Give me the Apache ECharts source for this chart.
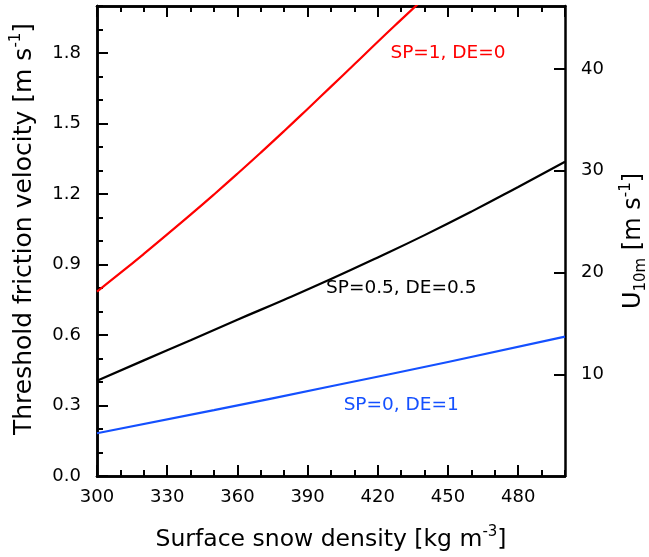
<!DOCTYPE html>
<html>
<head>
<meta charset="utf-8">
<script src="https://cdn.jsdelivr.net/npm/echarts@6/dist/echarts.min.js"></script>
<style>html,body{margin:0;padding:0;background:#fff}#c{width:649px;height:557px}</style>
</head>
<body>
<div id="c"></div>
<script>
// Data
const densRed = [300,310,320,330,340,350,360,370,380,390,400,410,420,430,440];
const uRed = [0.785,0.864,0.945,1.028,1.112,1.198,1.286,1.376,1.468,1.562,1.657,1.752,1.848,1.942,2.035];
const densBlack = [300,320,340,360,380,400,420,440,460,480,500];
const uBlack = [0.405,0.492,0.578,0.665,0.75,0.838,0.93,1.025,1.125,1.23,1.337];
const densBlue = [300,350,400,450,500];
const uBlue = [0.182,0.28,0.382,0.485,0.593];
const labelText = ['SP=1, DE=0', 'SP=0.5, DE=0.5', 'SP=0, DE=1'];
const labelPos = [[450, 1.80], [430, 0.80], [430, 0.302]];
const colors = ['#ff0000', '#000000', '#1450ff'];

const FF = 'DejaVu Sans';
const pair = (xs, ys) => xs.map((x, i) => [x, ys[i]]);
const lineStyleAxis = { color: '#000', width: 2.5 };
function richFor() {
  return {
    sup: { fontSize: 15, fontFamily: FF, color: '#000', verticalAlign: 'top', lineHeight: 14 },
    sub: { fontSize: 15, fontFamily: FF, color: '#000', verticalAlign: 'bottom', lineHeight: 14 }
  };
}
const nameStyle = (size, pad) => ({ fontFamily: FF, fontSize: size, color: '#000', lineHeight: 30,
  padding: pad || 0, rich: richFor() });

function xAx(pos, interval, len, labels, name) {
  return {
    type: 'value', position: pos, min: 300, max: 500, interval: interval,
    axisLine: { show: true, onZero: false, lineStyle: lineStyleAxis },
    axisTick: { show: true, inside: true, length: len, lineStyle: { color: '#000', width: 2 } },
    axisLabel: { show: labels, margin: 12, fontFamily: FF, fontSize: 18, color: '#000',
                 showMaxLabel: false },
    splitLine: { show: false },
    name: name || '', nameLocation: 'middle', nameGap: 49, nameTextStyle: nameStyle(23.5)
  };
}
function yAx(pos, min, max, interval, len, labels, fmt, name, gap, size, pad) {
  return {
    type: 'value', position: pos, min: min, max: max, interval: interval,
    axisLine: { show: true, onZero: false, lineStyle: lineStyleAxis },
    axisTick: { show: true, inside: true, length: len, lineStyle: { color: '#000', width: 2 } },
    axisLabel: { show: labels, margin: 16, fontFamily: FF, fontSize: 18, color: '#000',
                 showMaxLabel: false, showMinLabel: pos === 'left', formatter: fmt },
    splitLine: { show: false },
    name: name || '', nameLocation: 'middle', nameGap: gap || 0, nameRotate: 90,
    nameTextStyle: nameStyle(size || 24, pad)
  };
}

const chart = echarts.init(document.getElementById('c'), null, { renderer: 'canvas' });
const series = [
  { type: 'line', data: pair(densRed, uRed), color: colors[0] },
  { type: 'line', data: pair(densBlack, uBlack), color: colors[1] },
  { type: 'line', data: pair(densBlue, uBlue), color: colors[2] }
].map(s => Object.assign(s, {
  xAxisIndex: 0, yAxisIndex: 0, showSymbol: false, smooth: true, clip: true,
  lineStyle: { width: 2.2, color: s.color }, silent: true
}));
labelText.forEach((t, i) => {
  series.push({
    type: 'scatter', xAxisIndex: 0, yAxisIndex: 0, symbolSize: 0, silent: true,
    itemStyle: { opacity: 1 },
    data: [labelPos[i]],
    label: { show: true, position: 'inside', formatter: t, fontFamily: FF, fontSize: 18.5,
             color: colors[i], opacity: 1 }
  });
});

chart.setOption({
  animation: false,
  backgroundColor: '#fff',
  grid: { left: 97, top: 6, right: 84, bottom: 81, containLabel: false, outerBoundsMode: 'none' },
  xAxis: [
    xAx('bottom', 30, 11, true, 'Surface snow density [kg m{sup|-3}]'),
    xAx('bottom', 10, 6, false),
    xAx('top', 30, 11, false),
    xAx('top', 10, 6, false)
  ],
  yAxis: [
    yAx('left', 0, 2.0, 0.3, 11, true, v => v.toFixed(1), 'Threshold friction velocity [m s{sup|-1}]', 58, 25, [0, 0, 0, 24]),
    yAx('left', 0, 2.0, 0.1, 6, false),
    yAx('right', 0, 46.2, 10, 11, true, v => String(v), 'U{sub|10m} [m s{sup|-1}]', 54, 24)
  ],
  series: series
});
</script>
</body>
</html>
